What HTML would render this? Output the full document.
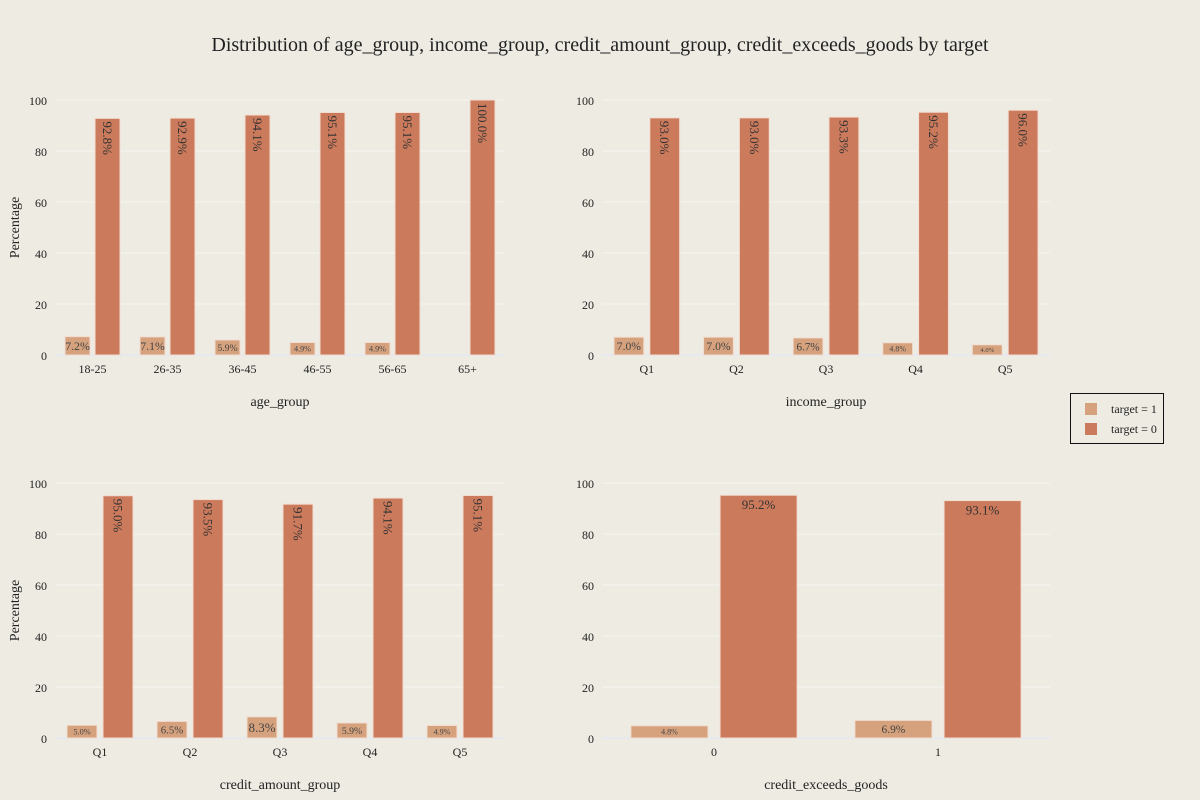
<!DOCTYPE html>
<html><head><meta charset="utf-8"><style>
body{margin:0;background:#EEEBE3;}
svg{display:block;font-family:"Liberation Serif",serif;}
</style></head><body>
<svg id="chart" width="1200" height="800">
<rect width="1200" height="800" fill="#EEEBE3"/>
<text x="600" y="51" text-anchor="middle" font-size="20" fill="#222">Distribution of age_group, income_group, credit_amount_group, credit_exceeds_goods by target</text>
<g>
<rect x="1070.5" y="393.5" width="93" height="50" fill="#EEEBE3" stroke="#111" stroke-width="1"/>
<rect x="1085" y="403" width="12" height="12" fill="#D6A27E"/>
<text x="1111" y="413" font-size="12" fill="#222">target = 1</text>
<rect x="1085" y="423" width="12" height="12" fill="#CC7A5C"/>
<text x="1111" y="433" font-size="12" fill="#222">target = 0</text>
</g>
</svg>
<script>
const ageCats=["18-25","26-35","36-45","46-55","56-65","65+"];
const ageT1=[7.2,7.1,5.9,4.9,4.9,0];
const ageT0=[92.8,92.9,94.1,95.1,95.1,100.0];
const incCats=["Q1","Q2","Q3","Q4","Q5"];
const incT1=[7.0,7.0,6.7,4.8,4.0];
const incT0=[93.0,93.0,93.3,95.2,96.0];
const credCats=["Q1","Q2","Q3","Q4","Q5"];
const credT1=[5.0,6.5,8.3,5.9,4.9];
const credT0=[95.0,93.5,91.7,94.1,95.1];
const goodsCats=["0","1"];
const goodsT1=[4.8,6.9];
const goodsT0=[95.2,93.1];
const yTicks=[0,20,40,60,80,100];

const svg=document.getElementById('chart');
const NS='http://www.w3.org/2000/svg';
function mk(tag,attrs,parent){const e=document.createElementNS(NS,tag);for(const k in attrs)e.setAttribute(k,attrs[k]);(parent||svg).appendChild(e);return e;}

function panel(id,x0,x1,y0,y100,cats,t1,t0,xTitle,showY,rotate){
  const g=mk('g',{});
  
  
  const ys=v=>y0-(y0-y100)*v/100;
  const band=(x1-x0)/cats.length;
  const xs=i=>x0+band*(i+0.5);
  yTicks.forEach(t=>{
    const l=mk('line',{x1:x0,x2:x1,y1:ys(t),y2:ys(t),stroke:t===0?'#E6E9EF':'#F5F4F0','stroke-width':t===0?2:1},g);
    
    
    const tx=mk('text',{x:x0-8,y:ys(t)+5,'text-anchor':'end','font-size':12,fill:'#222'},g);
    tx.textContent=t;
    
    
  });
  const bw=band*(cats.length===2?0.344:0.333), gap=band*(cats.length===2?0.054:0.067);
  cats.forEach((c,i)=>{
    const cx=xs(i);
    const lx=cx-gap/2-bw, dx=cx+gap/2;
    const h1=y0-ys(t1[i]);
    if(t1[i]>0){
      const r=mk('rect',{x:lx,y:ys(t1[i]),width:bw,height:h1,fill:'#D6A27E',stroke:'#F2DDD0','stroke-width':1},g);
      
      
      const fs=Math.min(13,h1*0.65);
      const tt=mk('text',{x:lx+bw/2,y:ys(t1[i])+h1/2+fs*0.35,'text-anchor':'middle','font-size':fs,fill:'#444'},g);
      tt.textContent=t1[i].toFixed(1)+'%';
      
      
    }
    const r0=mk('rect',{x:dx,y:ys(t0[i]),width:bw,height:y0-ys(t0[i]),fill:'#CC7A5C',stroke:'#F2DDD0','stroke-width':1},g);
    
    
    let t;
    if(rotate){
      t=mk('text',{x:0,y:0,'text-anchor':'start','font-size':13,fill:'#333',transform:`translate(${dx+bw/2-4.5},${ys(t0[i])+3}) rotate(90)`},g);
    }else{
      t=mk('text',{x:dx+bw/2,y:ys(t0[i])+14,'text-anchor':'middle','font-size':13,fill:'#333'},g);
    }
    t.textContent=t0[i].toFixed(1)+'%';
    
    
    const xl=mk('text',{x:cx,y:y0+18,'text-anchor':'middle','font-size':12,fill:'#222'},g);
    xl.textContent=c;
    
    
  });
  const xt=mk('text',{x:(x0+x1)/2,y:y0+51,'text-anchor':'middle','font-size':14,fill:'#222'},g);
  xt.textContent=xTitle;
  
  
  if(showY){
    const yy=(y0+y100)/2;
    const yt=mk('text',{x:0,y:0,'text-anchor':'middle','font-size':14,fill:'#222',transform:`translate(19,${yy}) rotate(-90)`},g);
    yt.textContent='Percentage';
    
    
  }
}
panel('age-group',55,505,355,100,ageCats,ageT1,ageT0,'age_group',true,true);
panel('income-group',602,1050,355,100,incCats,incT1,incT0,'income_group',false,true);
panel('credit-amount-group',55,505,738,483,credCats,credT1,credT0,'credit_amount_group',true,true);
panel('credit-exceeds-goods',602,1050,738,483,goodsCats,goodsT1,goodsT0,'credit_exceeds_goods',false,false);
</script>
</body></html>
